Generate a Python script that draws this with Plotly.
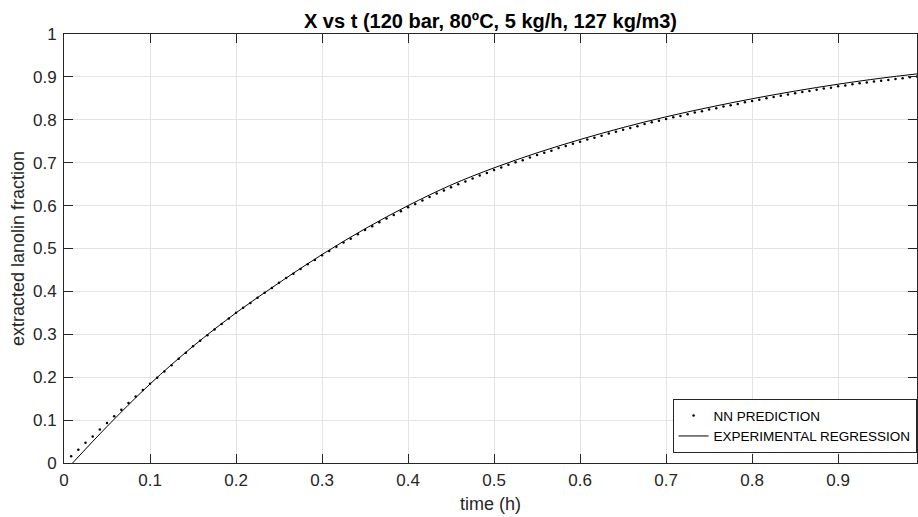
import numpy as np
import plotly.graph_objects as go

# NN prediction, sampled every 30 s (1/120 h)
nn_time = np.arange(1, 120) / 120
nn_fraction = [
    0.016, 0.031, 0.047, 0.062, 0.078, 0.093, 0.109, 0.124, 0.140, 0.155,
    0.170, 0.185, 0.199, 0.213, 0.228, 0.243, 0.257, 0.272, 0.285, 0.298,
    0.311, 0.324, 0.337, 0.350, 0.362, 0.373, 0.385, 0.397, 0.408, 0.420,
    0.431, 0.441, 0.452, 0.463, 0.473, 0.484, 0.494, 0.504, 0.514, 0.523,
    0.533, 0.543, 0.552, 0.561, 0.570, 0.578, 0.587, 0.596, 0.604, 0.612,
    0.620, 0.628, 0.635, 0.643, 0.650, 0.656, 0.663, 0.670, 0.676, 0.683,
    0.689, 0.695, 0.701, 0.706, 0.712, 0.718, 0.723, 0.728, 0.734, 0.739,
    0.744, 0.749, 0.754, 0.758, 0.763, 0.768, 0.772, 0.777, 0.781, 0.785,
    0.790, 0.794, 0.798, 0.802, 0.806, 0.809, 0.813, 0.817, 0.820, 0.824,
    0.827, 0.831, 0.834, 0.837, 0.841, 0.844, 0.847, 0.850, 0.853, 0.856,
    0.859, 0.862, 0.865, 0.867, 0.870, 0.873, 0.875, 0.878, 0.880, 0.883,
    0.885, 0.887, 0.889, 0.891, 0.893, 0.895, 0.897, 0.899, 0.901,
]

# experimental regression curve
exp_time = [0.01, 0.05, 0.10, 0.15, 0.20, 0.25, 0.30, 0.35, 0.40, 0.45, 0.50,
            0.55, 0.60, 0.65, 0.70, 0.75, 0.80, 0.85, 0.90, 0.95, 0.9917]
exp_fraction = [0.0, 0.085, 0.184, 0.272, 0.350, 0.420, 0.486, 0.546, 0.600,
                0.648, 0.688, 0.723, 0.754, 0.782, 0.807, 0.829, 0.849, 0.867,
                0.883, 0.897, 0.907]

x_ticks = [0, 0.1, 0.2, 0.3, 0.4, 0.5, 0.6, 0.7, 0.8, 0.9]
y_ticks = [0, 0.1, 0.2, 0.3, 0.4, 0.5, 0.6, 0.7, 0.8, 0.9, 1]

font = 'Liberation Sans, Arial, sans-serif'

fig = go.Figure()
fig.add_trace(go.Scatter(x=nn_time, y=nn_fraction, mode='markers',
                         name='NN PREDICTION',
                         marker=dict(color='black', size=2.5)))
fig.add_trace(go.Scatter(x=exp_time, y=exp_fraction, mode='lines',
                         name='EXPERIMENTAL REGRESSION', line_shape='spline',
                         line=dict(color='black', width=1)))

axis = dict(showline=True, linecolor='#262626', linewidth=1, mirror='ticks',
            ticks='inside', ticklen=9, tickcolor='#262626', tickwidth=1,
            showgrid=True, gridcolor='#e3e3e3', gridwidth=1, zeroline=False,
            automargin=False,
            tickfont=dict(family=font, size=17, color='#262626'))

fig.update_xaxes(range=[0, 0.9917], tickvals=x_ticks, ticklabelstandoff=2,
                 title=dict(text='time (h)', standoff=7,
                            font=dict(family=font, size=18, color='#262626')),
                 **axis)
fig.update_yaxes(range=[0, 1], tickvals=y_ticks, ticklabelstandoff=3,
                 title=dict(text='extracted lanolin fraction', standoff=3,
                            font=dict(family=font, size=18, color='#262626')),
                 **axis)

fig.update_layout(
    width=918, height=517,
    margin=dict(l=64, r=1, t=34, b=54),
    plot_bgcolor='white', paper_bgcolor='white',
    title=dict(text='<b>X vs t (120 bar, 80ºC, 5 kg/h, 127 kg/m3)</b>',
               x=0.5, xref='paper', y=0.959, yanchor='middle',
               font=dict(family=font, size=20, color='black')),
    legend=dict(x=0.9995, xanchor='right', y=0.023, yanchor='bottom',
                bgcolor='white', bordercolor='#262626', borderwidth=1,
                font=dict(family=font, size=13.5, color='black'),
                tracegroupgap=0, itemwidth=30),
    showlegend=True,
)

# drop the page's default body margin so the figure fills the window
fig.write_html('out.html', config={'displayModeBar': False}, post_script=(
    "document.body.style.margin='0';"
    "document.body.style.overflow='hidden';"))
